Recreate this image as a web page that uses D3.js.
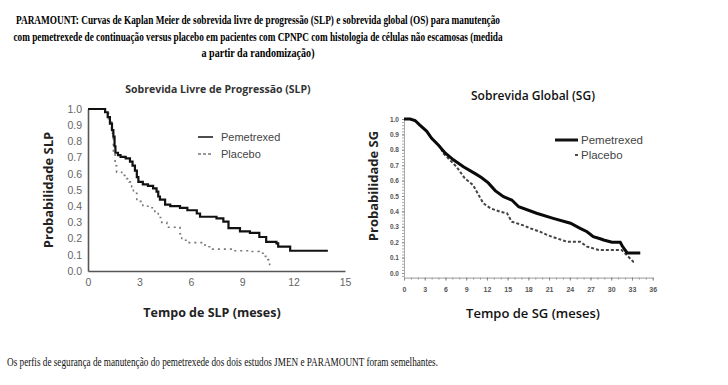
<!DOCTYPE html>
<html>
<head>
<meta charset="utf-8">
<script src="https://cdn.jsdelivr.net/npm/d3@7"></script>
<style>
  body { margin: 0; background: #fff; }
  svg { display: block; }
</style>
</head>
<body>
<div id="chart"></div>
<script>
// titulo e texto
var titleLines = [
  "PARAMOUNT: Curvas de Kaplan Meier de sobrevida livre de progressão (SLP) e sobrevida global (OS) para manutenção",
  "com pemetrexede de continuação versus placebo em pacientes com CPNPC com histologia de células não escamosas (medida",
  "a partir da randomização)"
];
var footText = "Os perfis de segurança de manutenção do pemetrexede dos dois estudos JMEN e PARAMOUNT foram semelhantes.";
var seriesNames = ["Pemetrexed", "Placebo"];

// SLP (meses, probabilidade)
var slpTicksX = [0, 3, 6, 9, 12, 15];
var slpTicksY = [0, 0.1, 0.2, 0.3, 0.4, 0.5, 0.6, 0.7, 0.8, 0.9, 1.0];
var slpPemetrexed = [[0,1.0],[0.8,1.0],[1.0,0.98],[1.15,0.95],[1.28,0.91],[1.4,0.87],[1.48,0.83],[1.55,0.77],[1.6,0.73],
  [1.75,0.715],[1.9,0.705],[2.2,0.695],[2.45,0.675],[2.6,0.65],[2.74,0.62],[2.85,0.58],[2.94,0.55],[3.2,0.535],[3.5,0.525],
  [3.8,0.51],[4.0,0.49],[4.1,0.46],[4.2,0.44],[4.5,0.41],[4.8,0.40],[5.37,0.39],[5.8,0.375],[6.35,0.355],[6.54,0.335],
  [7.5,0.325],[7.9,0.305],[8.2,0.265],[8.87,0.245],[9.45,0.235],[10.0,0.21],[10.4,0.18],[11.0,0.17],[11.1,0.15],
  [11.8,0.125],[14.0,0.125]];
var slpPlacebo = [[0,1.0],[0.8,1.0],[1.0,0.98],[1.2,0.94],[1.38,0.85],[1.48,0.73],[1.58,0.65],[1.67,0.61],[1.97,0.59],
  [2.26,0.57],[2.4,0.55],[2.55,0.52],[2.65,0.48],[2.85,0.43],[3.2,0.40],[3.5,0.39],[3.9,0.355],[4.1,0.33],[4.3,0.30],
  [4.6,0.27],[5.37,0.23],[5.47,0.19],[5.85,0.175],[6.83,0.15],[7.1,0.135],[8.5,0.125],[9.45,0.12],[10.0,0.11],
  [10.3,0.09],[10.5,0.07],[10.6,0.04],[10.8,0.04]];

// SG (meses, probabilidade)
var sgTicksX = [0, 3, 6, 9, 12, 15, 18, 21, 24, 27, 30, 33, 36];
var sgTicksY = [0, 0.1, 0.2, 0.3, 0.4, 0.5, 0.6, 0.7, 0.8, 0.9, 1.0];
var sgPemetrexed = [[0,1.0],[0.9,1.0],[1.6,0.99],[2.3,0.96],[3.3,0.92],[4.0,0.875],[5.0,0.83],[5.95,0.78],[7.15,0.735],
  [8.6,0.69],[10.3,0.645],[11.2,0.62],[12.2,0.585],[13.2,0.535],[14.4,0.495],[15.6,0.474],[16.6,0.43],[19.2,0.388],
  [21.6,0.355],[24.1,0.323],[25.5,0.29],[26.5,0.268],[27.4,0.236],[28.4,0.222],[28.9,0.214],[30.1,0.2],[31.3,0.2],
  [31.6,0.175],[32.3,0.13],[34.2,0.13]];
var sgPlacebo = [[0,1.0],[0.9,1.0],[1.6,0.99],[2.3,0.96],[3.3,0.92],[4.0,0.875],[5.0,0.83],[5.2,0.82],[5.7,0.777],
  [6.4,0.745],[7.6,0.69],[8.8,0.615],[10.0,0.571],[10.8,0.506],[11.5,0.452],[12.5,0.42],[13.9,0.398],[14.9,0.388],
  [15.6,0.333],[17.1,0.312],[18.3,0.29],[19.7,0.268],[20.7,0.247],[22.1,0.225],[23.6,0.203],[25.5,0.203],[26.5,0.171],
  [28.2,0.149],[31.5,0.149],[33.2,0.073],[33.5,0.073]];

var W = 728, H = 385;
var svg = d3.select("#chart").append("svg")
    .attr("width", W)
    .attr("height", H);

svg.append("rect").attr("width", W).attr("height", H).attr("fill", "#fff");

// titulo
var titleW = [484, 489, 113];
svg.append("g").selectAll("text")
    .data(titleLines)
    .enter().append("text")
      .attr("x", 258)
      .attr("y", function(d, i) { return 24 + i * 16.5; })
      .attr("text-anchor", "middle")
      .attr("font-family", "Liberation Serif, serif")
      .attr("font-weight", "bold")
      .attr("font-size", 12)
      .attr("textLength", function(d, i) { return titleW[i]; })
      .attr("lengthAdjust", "spacingAndGlyphs")
      .text(function(d) { return d; });

svg.append("text")
    .attr("x", 7)
    .attr("y", 366)
    .attr("font-family", "Liberation Serif, serif")
    .attr("font-size", 12)
    .attr("textLength", 431)
    .attr("lengthAdjust", "spacingAndGlyphs")
    .attr("fill", "#111")
    .text(footText);

// ---- grafico SLP ----
var x1 = d3.scaleLinear().domain([0, 15]).range([88, 345]);
var y1 = d3.scaleLinear().domain([0, 1]).range([271, 109]);

var g1 = svg.append("g");

g1.append("g")
    .attr("transform", "translate(0," + y1(0) + ")")
    .call(d3.axisBottom(x1).tickValues(slpTicksX).tickSize(0).tickSizeOuter(0).tickPadding(8))
    .call(function(g) {
      g.select(".domain").attr("stroke", "#555").attr("stroke-width", 1.6);
      g.selectAll("text").attr("fill", "#666").attr("font-family", "Liberation Sans, Arial, sans-serif").attr("font-size", 10.5);
    });

g1.append("g")
    .attr("transform", "translate(" + x1(0) + ",0)")
    .call(d3.axisLeft(y1).tickValues(slpTicksY).tickFormat(d3.format(".1f")).tickSize(0).tickSizeOuter(0).tickPadding(6))
    .call(function(g) {
      g.select(".domain").attr("stroke", "#555").attr("stroke-width", 1.6);
      g.selectAll("text").attr("fill", "#666").attr("font-family", "Liberation Sans, Arial, sans-serif").attr("font-size", 10.5);
    });

var line1 = d3.line()
    .x(function(d) { return x1(d[0]); })
    .y(function(d) { return y1(d[1]); })
    .curve(d3.curveStepAfter);

g1.append("path")
    .datum(slpPlacebo)
    .attr("fill", "none")
    .attr("stroke", "#777")
    .attr("stroke-width", 1.6)
    .attr("stroke-dasharray", "2,4")
    .attr("d", line1);

g1.append("path")
    .datum(slpPemetrexed)
    .attr("fill", "none")
    .attr("stroke", "#111")
    .attr("stroke-width", 2.2)
    .attr("d", line1);

g1.append("text")
    .attr("x", 218).attr("y", 89)
    .attr("dy", "0.35em")
    .attr("text-anchor", "middle")
    .attr("font-family", "Open Sans, sans-serif")
    .attr("font-weight", "bold")
    .attr("font-size", 10.5)
    .attr("fill", "#333")
    .text("Sobrevida Livre de Progressão (SLP)");

g1.append("text")
    .attr("transform", "translate(48,190) rotate(-90)")
    .attr("dy", "0.35em")
    .attr("text-anchor", "middle")
    .attr("font-family", "Open Sans, sans-serif")
    .attr("font-weight", "bold")
    .attr("font-size", 13)
    .attr("fill", "#222")
    .text("Probabilidade SLP");

g1.append("text")
    .attr("x", 212).attr("y", 313)
    .attr("dy", "0.35em")
    .attr("text-anchor", "middle")
    .attr("font-family", "Open Sans, sans-serif")
    .attr("font-weight", "bold")
    .attr("font-size", 12.5)
    .attr("fill", "#222")
    .text("Tempo de SLP (meses)");

var leg1 = g1.append("g")
    .selectAll("g")
    .data(seriesNames)
    .enter().append("g")
      .attr("transform", function(d, i) { return "translate(198," + (137 + i * 17) + ")"; });

leg1.append("line")
    .attr("x1", 0).attr("x2", 15)
    .attr("stroke", function(d, i) { return i == 0 ? "#222" : "#777"; })
    .attr("stroke-width", function(d, i) { return i == 0 ? 1.6 : 1.4; })
    .attr("stroke-dasharray", function(d, i) { return i == 0 ? null : "3,2"; });

leg1.append("text")
    .attr("x", 23)
    .attr("dy", "0.35em")
    .attr("font-family", "Liberation Sans, Arial, sans-serif")
    .attr("font-size", 11)
    .attr("fill", "#444")
    .text(function(d) { return d; });

// ---- grafico SG ----
var x2 = d3.scaleLinear().domain([0, 36]).range([404, 652.7]);
var y2 = d3.scaleLinear().domain([-0.03, 1]).range([277.6, 119]);

var g2 = svg.append("g");

// tracinhos menores
g2.append("g")
    .attr("transform", "translate(0," + y2(-0.03) + ")")
    .call(d3.axisBottom(x2).ticks(36).tickFormat("").tickSize(2).tickSizeOuter(0))
    .call(function(g) {
      g.select(".domain").remove();
      g.selectAll("line").attr("stroke", "#999");
    });

g2.append("g")
    .attr("transform", "translate(" + x2(0) + ",0)")
    .call(d3.axisLeft(y2).ticks(40).tickFormat("").tickSize(2).tickSizeOuter(0))
    .call(function(g) {
      g.select(".domain").remove();
      g.selectAll("line").attr("stroke", "#aaa");
    });

g2.append("g")
    .attr("transform", "translate(0," + y2(-0.03) + ")")
    .call(d3.axisBottom(x2).tickValues(sgTicksX).tickSize(3).tickSizeOuter(0).tickPadding(6))
    .call(function(g) {
      g.select(".domain").attr("stroke", "#999").attr("stroke-width", 1);
      g.selectAll("line").attr("stroke", "#888");
      g.selectAll("text").attr("fill", "#555").attr("font-family", "Liberation Sans, Arial, sans-serif")
        .attr("font-weight", "bold").attr("font-size", 7);
    });

g2.append("g")
    .attr("transform", "translate(" + x2(0) + ",0)")
    .call(d3.axisLeft(y2).tickValues(sgTicksY).tickFormat(d3.format(".1f")).tickSize(2).tickSizeOuter(0).tickPadding(3))
    .call(function(g) {
      g.select(".domain").attr("stroke", "#aaa").attr("stroke-width", 1);
      g.selectAll("line").attr("stroke", "#888");
      g.selectAll("text").attr("fill", "#555").attr("font-family", "Liberation Sans, Arial, sans-serif")
        .attr("font-weight", "bold").attr("font-size", 6.5);
    });

var line2 = d3.line()
    .x(function(d) { return x2(d[0]); })
    .y(function(d) { return y2(d[1]); });

g2.append("path")
    .datum(sgPlacebo)
    .attr("fill", "none")
    .attr("stroke", "#444")
    .attr("stroke-width", 2)
    .attr("stroke-dasharray", "3,2")
    .attr("d", line2);

g2.append("path")
    .datum(sgPemetrexed)
    .attr("fill", "none")
    .attr("stroke", "#0a0a0a")
    .attr("stroke-width", 3)
    .attr("d", line2);

g2.append("text")
    .attr("x", 533).attr("y", 96)
    .attr("dy", "0.35em")
    .attr("text-anchor", "middle")
    .attr("font-family", "Open Sans, sans-serif")
    .attr("font-weight", 600)
    .attr("font-size", 12)
    .attr("fill", "#111")
    .text("Sobrevida Global (SG)");

g2.append("text")
    .attr("transform", "translate(373,186) rotate(-90)")
    .attr("dy", "0.35em")
    .attr("text-anchor", "middle")
    .attr("font-family", "Open Sans, sans-serif")
    .attr("font-weight", "bold")
    .attr("font-size", 13)
    .attr("fill", "#222")
    .text("Probabilidade SG");

g2.append("text")
    .attr("x", 533).attr("y", 313)
    .attr("dy", "0.35em")
    .attr("text-anchor", "middle")
    .attr("font-family", "Open Sans, sans-serif")
    .attr("font-weight", 600)
    .attr("font-size", 13)
    .attr("fill", "#111")
    .text("Tempo de SG (meses)");

var leg2 = g2.append("g")
    .selectAll("g")
    .data(seriesNames)
    .enter().append("g")
      .attr("transform", function(d, i) { return "translate(555," + (140 + i * 15) + ")"; });

leg2.append("line")
    .attr("x1", function(d, i) { return i == 0 ? 0 : 20; })
    .attr("x2", 23)
    .attr("stroke", "#111")
    .attr("stroke-width", function(d, i) { return i == 0 ? 3 : 1.5; });

leg2.append("text")
    .attr("x", 26)
    .attr("dy", "0.35em")
    .attr("font-family", "Liberation Sans, Arial, sans-serif")
    .attr("font-size", 11.5)
    .attr("fill", "#444")
    .text(function(d) { return d; });
</script>
</body>
</html>
